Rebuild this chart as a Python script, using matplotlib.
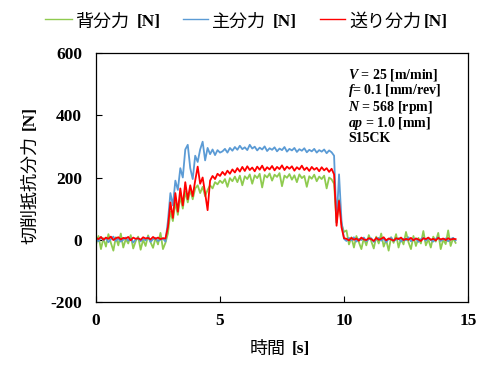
import numpy as np
import matplotlib
matplotlib.use("Agg")
import matplotlib.pyplot as plt
from matplotlib.lines import Line2D

plt.rcParams['mathtext.fontset'] = 'custom'
plt.rcParams['mathtext.it'] = 'Liberation Serif:italic:bold'
plt.rcParams['mathtext.rm'] = 'Liberation Serif:bold'
plt.rcParams['axes.unicode_minus'] = False

time_s = np.round(np.linspace(0.0, 14.5, 146), 1)

# 背分力 (thrust force) [N]
thrust = [
    -15, 12, -30, 5, -22, 18, -10, -35, 8, -18,
    20, -25, 2, -12, 15, -28, -5, 10, -32, 0,
    -20, 14, -8, -26, 6, -15, 22, -30, -10,
    20, 90, 60, 120, 80, 140, 100, 155, 120, 160,
    130, 165, 175, 150, 170, 140, 160, 175, 165, 185, 178, 190,
    182, 195, 170, 198, 188, 203, 185, 206, 175, 204,
    195, 210, 180, 207, 198, 212, 168, 208, 200, 213,
    190, 209, 202, 214, 172, 206, 199, 211, 193, 207,
    185, 210, 198, 205, 170, 204, 196, 209, 188, 203,
    195, 206, 165, 200, 194,
    180, 55, 130, 50, 25,
    30, -15, 8, -25, 12, -8, -30, 5, -18, 15,
    -5, -28, 10, -12, 20, -22, 0, -35, 8, -10,
    18, -25, 4, -15, 25, -8, -30, 12, -20, 6,
    -12, 28, -18, 2, -25, 10, -6, 22, -30, 0,
    -14, 30, -20, 5, -10,
]

# 主分力 (principal force) [N]
principal = [
    3, -5, 8, -2, 6, -8, 2, 10, -4, 5,
    -6, 0, 7, -3, 4, -9, 1, 6, -5, 3,
    -2, 9, -7, 2, 5, -4, 0, 4, -6,
    60, 150, 110, 190, 160, 230, 200, 290, 305, 230,
    195, 270, 250, 290, 315, 255, 295, 275, 290, 272, 288, 280,
    284, 292, 280, 295, 286, 298, 289, 302, 291, 297,
    288, 305, 293, 299, 287, 296, 290, 300, 285, 294,
    289, 297, 284, 293, 288, 298, 283, 292, 287, 295,
    282, 291, 286, 294, 281, 289, 284, 292, 280, 288,
    283, 290, 278, 287, 281,
    270, 55, 210, 60, 3,
    -4, 6, -2, 8, -6, 3, -1, 7, -5, 2,
    5, -7, 1, 6, -3, 4, -8, 2, 7, -4,
    0, 5, -6, 3, -2, 8, -5, 1, 4, -7,
    2, 6, -3, 5, -1, -6, 3, 7, -4, 1,
    4, -5, 2, 6, -2,
]

# 送り分力 (feed force) [N]
feed = [
    6, 2, 9, 0, 7, 3, 10, -1, 5, 8,
    1, 6, 4, 9, -2, 7, 3, 5, 0, 8,
    4, 6, 1, 9, 3, 7, 2, 5, 4,
    40, 120, 70, 150, 90, 165, 110, 185, 130, 175,
    140, 190, 235, 180, 200, 150, 95, 190, 205, 195, 212, 205,
    218, 208, 222, 212, 226, 216, 230, 219, 234, 221,
    236, 224, 232, 220, 235, 225, 238, 222, 233, 226,
    237, 223, 234, 227, 239, 224, 235, 228, 236, 222,
    233, 226, 238, 224, 232, 221, 234, 225, 231, 220,
    233, 223, 230, 218, 228,
    210, 45, 125, 40, 5,
    3, -2, 6, 0, 4, -3, 7, 1, -1, 5,
    2, -4, 6, 0, 3, 8, -2, 4, 1, -3,
    5, 2, 7, -1, 3, 0, 6, -2, 4, 1,
    -4, 5, 2, 7, 0, 3, -2, 6, 1, 4,
    -1, 5, 0, 3, 2,
]

series_names = ['背分力', '主分力', '送り分力']
series_colors = ['#8FCB4F', '#5B9BD5', '#FF0000']
x_ticks = [0, 5, 10, 15]
y_ticks = [-200, 0, 200, 400, 600]
conditions = [r'$V$ = 25 [m/min]', r'$f$= 0.1 [mm/rev]', r'$N$ = 568 [rpm]',
              r'$ap$ = 1.0 [mm]', 'S15CK']

W, H = 491, 378
fig = plt.figure(figsize=(W / 100, H / 100), dpi=100)
ax = fig.add_axes([96 / W, 1 - 302 / H, (468 - 96) / W, (302 - 53) / H])


def fx(px):
    return px / W


def fy(py):
    return 1 - py / H


for vals, col in zip([thrust, principal, feed], series_colors):
    ax.plot(time_s, vals, color=col, linewidth=1.3)

ax.set_xlim(0, 15)
ax.set_ylim(-200, 600)
ax.set_xticks(x_ticks)
ax.set_yticks(y_ticks)
ax.tick_params(direction='in', length=4, width=0.8, labelsize=12.5)
ax.tick_params(axis='y', pad=10)
ax.tick_params(axis='x', pad=8)
for lab in ax.get_xticklabels() + ax.get_yticklabels():
    lab.set_fontfamily('Liberation Serif')
    lab.set_fontweight('bold')
for sp in ax.spines.values():
    sp.set_linewidth(0.9)
    sp.set_color('black')

jp = 'Noto Sans CJK JP'
serif = 'Liberation Serif'

# condition block, one multi-line text
fig.text(fx(348), fy(67), '\n'.join(conditions), family=serif, fontweight='bold',
         fontsize=10, linespacing=0.95, ha='left', va='top')

# axis labels (Japanese gothic + bold serif unit)
fig.text(fx(268), fy(349), '時間', family=jp, fontsize=13, ha='center', va='center')
fig.text(fx(301), fy(349), '[s]', family=serif, fontweight='bold', fontsize=12.5,
         ha='center', va='center')
fig.text(fx(30), fy(190), '切削抵抗分力', family=jp, fontsize=13, rotation=90,
         ha='center', va='center')
fig.text(fx(30), fy(118), '[N]', family=serif, fontweight='bold', fontsize=12.5,
         rotation=90, ha='center', va='center')

# legend drawn by hand
legend_pos = [(45, 72, 76, 137), (183, 208, 212, 273), (320, 345, 349, 424)]
for name, col, (x0, x1, tx, ux) in zip(series_names, series_colors, legend_pos):
    fig.add_artist(Line2D([fx(x0), fx(x1)], [fy(19), fy(19)], color=col,
                          linewidth=1.0, transform=fig.transFigure))
    fig.text(fx(tx), fy(22), name, family=jp, fontsize=13, ha='left', va='center')
    fig.text(fx(ux), fy(22), '[N]', family=serif, fontweight='bold', fontsize=12.5,
             ha='left', va='center')

fig.savefig('out.png', dpi=100)
